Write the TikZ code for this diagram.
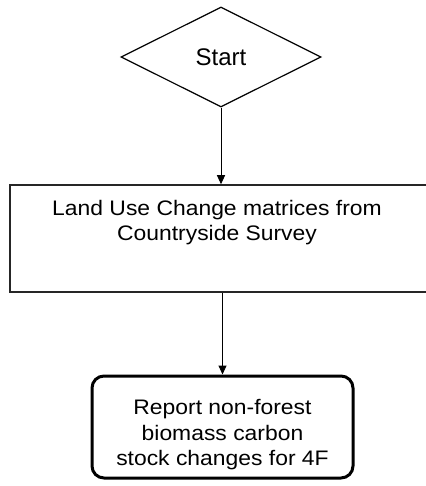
\documentclass[tikz,border=0pt]{standalone}
\usepackage{fontspec}
\setmainfont{Liberation Sans}[FakeStretch=1.09]
\newfontfamily\startfont{Liberation Sans}
\usetikzlibrary{shapes.geometric,arrows.meta}
\begin{document}
\begin{tikzpicture}[x=1pt,y=-1pt,
  flowarrow/.style={draw=black,line width=1pt,-{Triangle[width=8pt,length=9pt]}},
  decisionbox/.style={diamond,draw=black,line width=1.2pt,minimum width=200pt,minimum height=100pt,inner sep=0pt,font=\startfont\fontsize{24}{28}\selectfont},
  processbox/.style={rectangle,draw=black!85,line width=1.5pt,inner sep=0pt,font=\fontsize{21}{25}\selectfont},
  terminalbox/.style={rectangle,rounded corners=12pt,draw=black,line width=3pt,inner sep=0pt,font=\fontsize{21}{25.5}\selectfont}]
\useasboundingbox[fill=white] (0,0) rectangle (425,486);
\node[decisionbox] (start) at (221,57) {Start};
\node[processbox] (lu) at (220,238.5) {\parbox[c][107pt][t]{420pt}{\centering\rightskip=6pt plus 1fil\vspace*{15.4pt}Land Use Change matrices from\\Countryside Survey}};
\node[terminalbox] (report) at (222.5,427) {\parbox[c][102pt][t]{261pt}{\centering\vspace*{23.7pt}Report non-forest\\biomass carbon\\stock changes for 4F}};
\draw[flowarrow] (start.south) -- (start.south |- lu.north);
\draw[flowarrow] (report.north |- lu.south) -- (report.north);
\end{tikzpicture}
\end{document}
